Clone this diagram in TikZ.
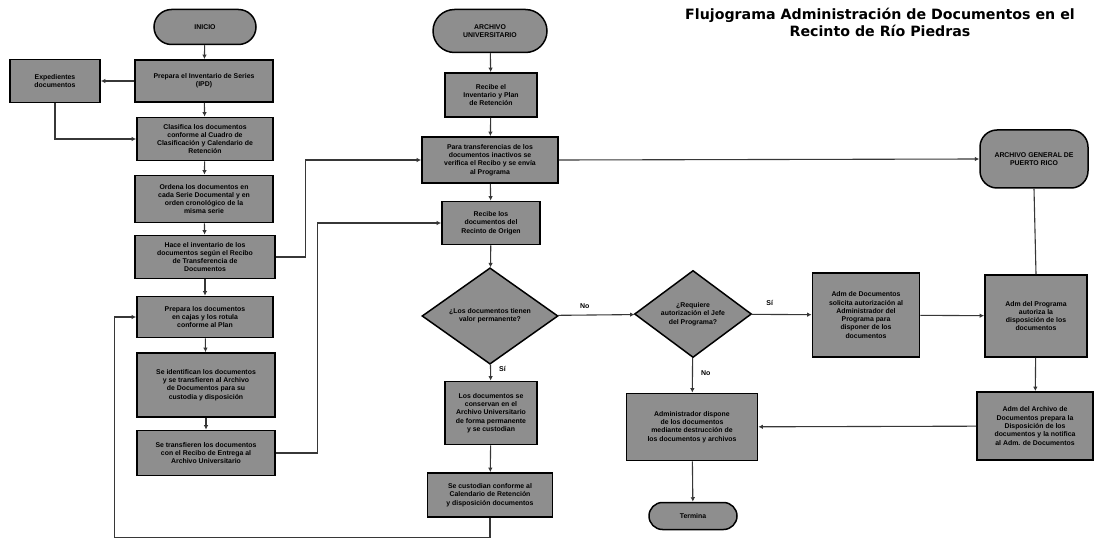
\documentclass[tikz,border=0pt]{standalone}
\usepackage{fontspec}
\setmainfont{DejaVu Sans}
\newfontfamily\boxfont{Liberation Sans}
\usetikzlibrary{shapes.geometric, shapes.misc, arrows.meta, positioning, calc}
\definecolor{boxgray}{RGB}{142,142,142}
\definecolor{linegray}{RGB}{55,55,55}
\tikzset{
  proc/.style={draw=black, line width=1.7pt, fill=boxgray, align=center,
    inner sep=1pt, font=\boxfont\fontsize{6.9}{8.3}\selectfont\bfseries},
  term/.style={rounded rectangle, draw=black, line width=1.5pt, fill=boxgray,
    align=center, inner sep=1pt, font=\boxfont\fontsize{6.9}{8.3}\selectfont\bfseries},
  decis/.style={diamond, draw=black, line width=1.5pt, fill=boxgray,
    align=center, inner sep=0pt, font=\boxfont\fontsize{6.9}{8.3}\selectfont\bfseries},
  flow/.style={-{Latex[length=4.5pt,width=4.5pt]}, line width=1.1pt, draw=linegray},
  plain/.style={line width=1.1pt, draw=linegray},
  tag/.style={font=\boxfont\fontsize{7}{8}\selectfont\bfseries, inner sep=0pt}
}
\begin{document}
\begin{tikzpicture}[x=1pt, y=-1pt]
\useasboundingbox (0,0) rectangle (1095,540);

% Title
\node[align=center, font=\fontsize{14.2}{17}\selectfont\bfseries] (title) at (880,22)
  {Flujograma Administración de Documentos en el\\Recinto de Río Piedras};

% Left column
\node[term, minimum width=104, minimum height=35] (inicio) at (205,27) {INICIO};
\node[proc, minimum width=138, minimum height=42] (b1) at (204,81)
  {Prepara el Inventario de Series\\(IPD)};
\node[proc, minimum width=90, minimum height=43] (exped) at (55,81)
  {Expedientes\\documentos};
\node[proc, minimum width=136, minimum height=43] (b2) at (205,139)
  {Clasifica los documentos\\conforme al Cuadro de\\Clasificación y Calendario de\\Retención};
\node[proc, minimum width=138, minimum height=47] (b3) at (204,199)
  {Ordena los documentos en\\cada Serie Documental y en\\orden cronológico de la\\misma serie};
\node[proc, minimum width=140, minimum height=43] (b4) at (205,257)
  {Hace el inventario de los\\documentos según el Recibo\\de Transferencia de\\Documentos};
\node[proc, minimum width=136, minimum height=41] (b5) at (205,317)
  {Prepara los documentos\\en cajas y los rotula\\conforme al Plan};
\node[proc, minimum width=138, minimum height=64] (b6) at (206,385)
  {Se identifican los documentos\\y se transfieren al Archivo\\de Documentos para su\\custodia y disposición};
\node[proc, minimum width=138, minimum height=45] (b7) at (206,453)
  {Se transfieren los documentos\\con el Recibo de Entrega al\\Archivo Universitario};

% Middle column
\node[term, minimum width=116, minimum height=43] (archu) at (490,31)
  {ARCHIVO\\UNIVERSITARIO};
\node[proc, minimum width=92, minimum height=44] (m1) at (491,95)
  {Recibe el\\Inventario y Plan\\de Retención};
\node[proc, minimum width=136, minimum height=46] (m2) at (490,160)
  {Para transferencias de los\\documentos inactivos se\\verifica el Recibo y se envía\\al Programa};
\node[proc, minimum width=98, minimum height=43] (m3) at (491,223)
  {Recibe los\\documentos del\\Recinto de Origen};
\node[decis, minimum width=136, minimum height=75] (d1) at (490,316)
  {¿Los documentos tienen\\valor permanente?};
\node[proc, minimum width=92, minimum height=63] (m4) at (491,413)
  {Los documentos se\\conservan en el\\Archivo Universitario\\de forma permanente\\y se custodian};
\node[proc, minimum width=125, minimum height=44] (m5) at (490,495)
  {Se custodian conforme al\\Calendario de Retención\\y disposición documentos};

% Right part
\node[decis, minimum width=117, minimum height=82] (d2) at (693,314)
  {¿Requiere\\autorización el Jefe\\del Programa?};
\node[proc, minimum width=131, minimum height=67] (disp) at (692,427)
  {Administrador dispone\\de los documentos\\mediante destrucción de\\los documentos y archivos};
\node[term, minimum width=90, minimum height=27] (termina) at (693,516) {Termina};
\node[proc, minimum width=107, minimum height=84] (r1) at (866,315)
  {Adm de Documentos\\solicita autorización al\\Administrador del\\Programa para\\disponer de los\\documentos};
\node[term, rectangle, rounded corners=17, minimum width=108, minimum height=58] (agpr) at (1034,159)
  {ARCHIVO GENERAL DE\\PUERTO RICO};
\node[proc, minimum width=102, minimum height=82] (r2) at (1036,316)
  {Adm del Programa\\autoriza la\\disposición de los\\documentos};
\node[proc, minimum width=116, minimum height=68] (r3) at (1035,426)
  {Adm del Archivo de\\Documentos prepara la\\Disposición de los\\documentos y la notifica\\al Adm. de Documentos};

% Connectors, left column
\draw[flow] (inicio) -- (b1);
\draw[flow] (b1) -- (exped);
\draw[flow] (exped.south) |- (b2.west);
\draw[flow] (b1) -- (b2);
\draw[flow] (b2) -- (b3);
\draw[flow] (b3) -- (b4);
\draw[flow] (b4) -- (b5);
\draw[flow] (b5) -- (b6);
\draw[flow] (b6) -- (b7);
\draw[flow] (b4.east) -- ++(30,0) |- (m2.west);
\draw[flow] (b7.east) -- ++(42,0) |- (m3.west);
\draw[flow] (m5.south) -- ++(0,20) -| ($(b5.west)+(-22,0)$) -- (b5.west);

% Connectors, middle column
\draw[flow] (archu) -- (m1);
\draw[flow] (m1) -- (m2);
\draw[flow] (m2) -- (m3);
\draw[flow] (m3) -- (d1);
\draw[flow] (d1) -- node[tag, right=8pt, pos=0.25] {Sí} (m4);
\draw[flow] (m4) -- (m5);
\draw[flow] (d1) -- node[tag, above=6pt, pos=0.35] {No} (d2);
\draw[flow] (m2.east) -- (agpr.west);

% Connectors, right part
\draw[flow] (d2) -- node[tag, above=8pt, pos=0.3] {Sí} (r1);
\draw[flow] (d2) -- node[tag, right=8pt, pos=0.45] {No} (disp);
\draw[flow] (disp) -- (termina);
\draw[flow] (r1) -- (r2);
\draw[plain] (agpr.south) -- (r2.north);
\draw[flow] (r2) -- (r3);
\draw[flow] (r3) -- (disp);
\end{tikzpicture}
\end{document}
